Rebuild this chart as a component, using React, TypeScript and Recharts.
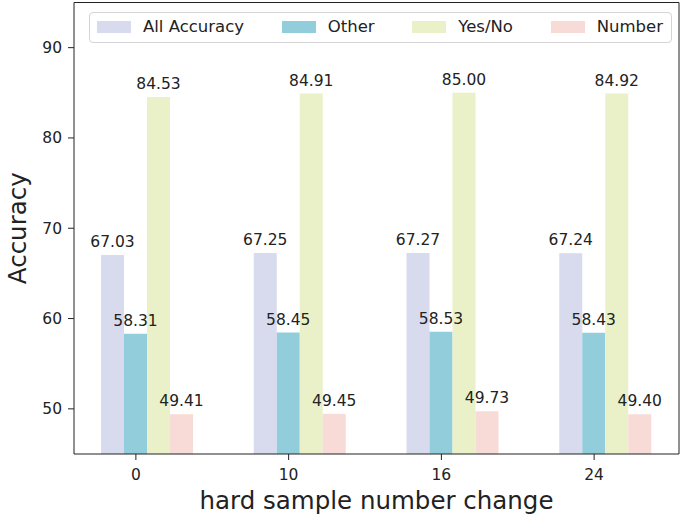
import React from 'react';
import { BarChart, Bar, XAxis, YAxis, Legend, LabelList, CartesianGrid } from 'recharts';

const categories = ['0', '10', '16', '24'];
const allAccuracy = [67.03, 67.25, 67.27, 67.24];
const other = [58.31, 58.45, 58.53, 58.43];
const yesNo = [84.53, 84.91, 85.0, 84.92];
const numberVals = [49.41, 49.45, 49.73, 49.4];
const yTicks = [50, 60, 70, 80, 90];
const seriesNames = ['All Accuracy', 'Other', 'Yes/No', 'Number'];

const data = categories.map((c, i) => ({
  name: c,
  all: allAccuracy[i],
  other: other[i],
  yesno: yesNo[i],
  number: numberVals[i],
}));

const FONT = '"DejaVu Sans", sans-serif';
const TEXT = '#222';
const AXIS = '#222';

const XTick = (props: any) => {
  const { x, y, payload } = props;
  const cx = x - 11.5;
  return (
    <g>
      <line x1={cx} x2={cx} y1={y - 6} y2={y} stroke={AXIS} strokeWidth={1} />
      <text x={cx} y={y + 19.5} textAnchor="middle" fontSize={15.5} fontFamily={FONT} fill={TEXT}>
        {payload.value}
      </text>
    </g>
  );
};

const YLabel = (props: any) => {
  const vb = props.viewBox || { x: 0, y: 0, height: 0 };
  const cx = vb.x + 26;
  const cy = vb.y + vb.height / 2;
  return (
    <text
      x={cx}
      y={cy}
      transform={`rotate(-90, ${cx}, ${cy})`}
      textAnchor="middle"
      fontSize={24.5}
      fontFamily={FONT}
      fill={TEXT}
    >
      Accuracy
    </text>
  );
};

const LegendBox = (props: any) => {
  const payload = [...(props.payload || [])].sort(
    (a: any, b: any) => seriesNames.indexOf(a.value) - seriesNames.indexOf(b.value)
  );
  return (
    <div
      style={{
        boxSizing: 'border-box',
        width: '100%',
        height: '100%',
        border: '1px solid #d4d4d4',
        borderRadius: 4,
        background: 'rgba(255,255,255,0.85)',
        display: 'flex',
        justifyContent: 'space-between',
        alignItems: 'center',
        padding: '0 8px 0 7px',
        fontFamily: FONT,
        fontSize: 16.5,
        color: TEXT,
      }}
    >
      {payload.map((p: any) => (
        <div key={p.value} style={{ display: 'flex', alignItems: 'center' }}>
          <span style={{ display: 'inline-block', width: 34, height: 12, background: p.color, marginRight: 12 }} />
          <span style={{ lineHeight: '18px' }}>{p.value}</span>
        </div>
      ))}
    </div>
  );
};

const fmt = (v: any) => Number(v).toFixed(2);

const labelStyle = { fontSize: 15.5, fontFamily: FONT, fill: TEXT };

export default function App() {
  return (
    <div style={{ position: 'absolute', left: 0, top: 0, width: 685, height: 518, background: '#fff' }}>
      <BarChart
        width={685}
        height={518}
        data={data}
        margin={{ top: 2.5, right: 6, bottom: 0, left: 0 }}
        barGap={0}
        barSize={23}
      >
        <CartesianGrid
          stroke={AXIS}
          strokeWidth={1}
          horizontalCoordinatesGenerator={({ offset }: any) => [offset.top]}
          verticalCoordinatesGenerator={({ offset }: any) => [offset.left + offset.width]}
        />
        <XAxis
          dataKey="name"
          height={64}
          padding={{ left: -3, right: -3 }}
          tickSize={6}
          tickMargin={0}
          tickLine={false}
          tick={<XTick />}
          axisLine={{ stroke: AXIS, strokeWidth: 1 }}
          label={{
            value: 'hard sample number change',
            position: 'insideBottom',
            offset: 9.5,
            style: { fontSize: 24.5, fontFamily: FONT, fill: TEXT },
          }}
        />
        <YAxis
          type="number"
          domain={[45, 95]}
          ticks={yTicks}
          width={74}
          tickSize={6}
          tickMargin={6}
          tickLine={{ stroke: AXIS, strokeWidth: 1 }}
          axisLine={{ stroke: AXIS, strokeWidth: 1 }}
          tick={{ fontSize: 15.5, fontFamily: FONT, fill: TEXT }}
          label={<YLabel />}
        />
        <Legend
          layout="horizontal"
          verticalAlign="middle"
          align="center"
          wrapperStyle={{ left: 89, top: 11.5, width: 583, height: 31 }}
          content={<LegendBox />}
        />
        <Bar dataKey="all" name="All Accuracy" fill="#d8daed" isAnimationActive={false}>
          <LabelList dataKey="all" position="top" offset={8} formatter={fmt} style={labelStyle} />
        </Bar>
        <Bar dataKey="other" name="Other" fill="#92cddc" isAnimationActive={false}>
          <LabelList dataKey="other" position="top" offset={8} formatter={fmt} style={labelStyle} />
        </Bar>
        <Bar dataKey="yesno" name="Yes/No" fill="#eaf1c8" isAnimationActive={false}>
          <LabelList dataKey="yesno" position="top" offset={8} formatter={fmt} style={labelStyle} />
        </Bar>
        <Bar dataKey="number" name="Number" fill="#f8dbd6" isAnimationActive={false}>
          <LabelList dataKey="number" position="top" offset={8} formatter={fmt} style={labelStyle} />
        </Bar>
      </BarChart>
    </div>
  );
}
